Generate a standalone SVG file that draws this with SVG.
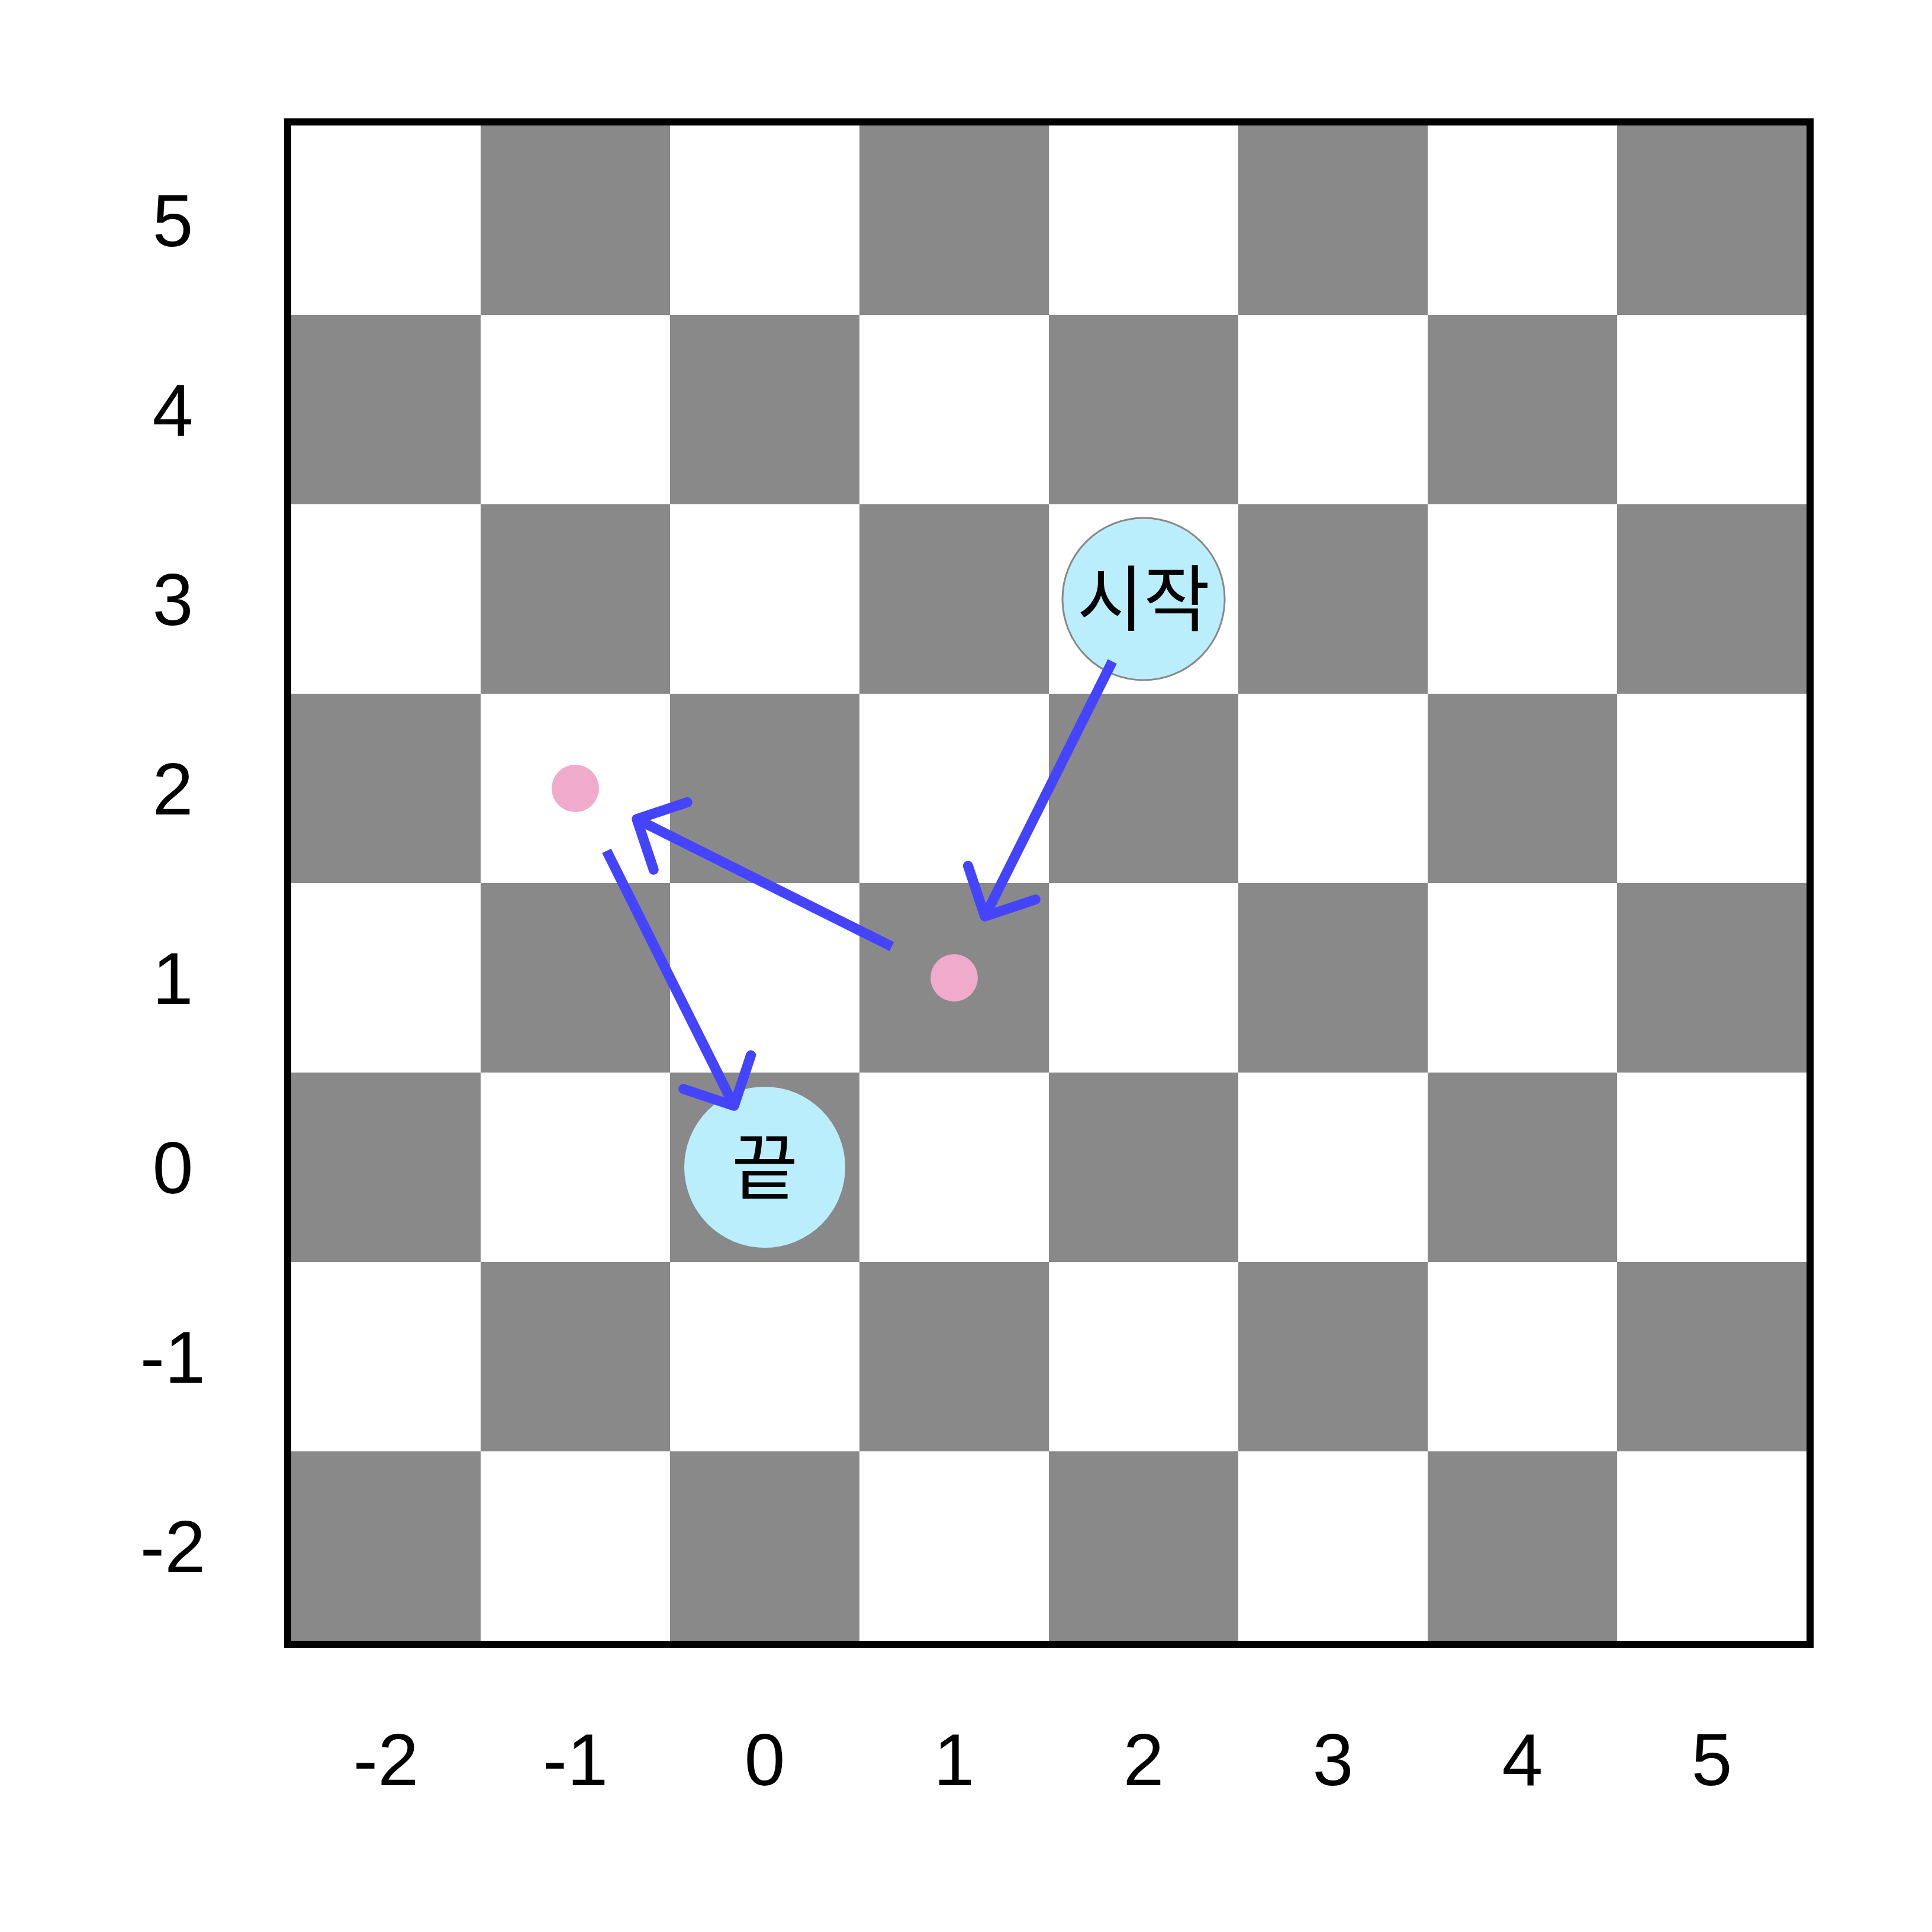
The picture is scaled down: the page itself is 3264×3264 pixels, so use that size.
<svg xmlns="http://www.w3.org/2000/svg" width="3264" height="3264" viewBox="0 0 3264 3264">
<style>
.dk{fill:#898989}
.lbl{font-family:"Liberation Sans",Arial,sans-serif;font-size:124px;fill:#000;text-anchor:middle}
.kr{font-family:"Noto Sans CJK KR","Noto Sans CJK SC",sans-serif;font-size:122px;fill:#000;text-anchor:middle}
.node{fill:#BBEEFD}
.dot{fill:#EFAACC}
.shaft{stroke:#4444FF;stroke-width:17;fill:none;stroke-linecap:butt}
.head{stroke:#4444FF;stroke-width:17;fill:none;stroke-linecap:round;stroke-linejoin:round}
</style>
<rect x="0" y="0" width="3264" height="3264" fill="#fff"/>
<g id="board">
<rect x="492" y="212" width="2560" height="2560" fill="#fff"/>
<!-- row 5 -->
<rect class="dk" x="812" y="212" width="320" height="320"/>
<rect class="dk" x="1452" y="212" width="320" height="320"/>
<rect class="dk" x="2092" y="212" width="320" height="320"/>
<rect class="dk" x="2732" y="212" width="320" height="320"/>
<!-- row 4 -->
<rect class="dk" x="492" y="532" width="320" height="320"/>
<rect class="dk" x="1132" y="532" width="320" height="320"/>
<rect class="dk" x="1772" y="532" width="320" height="320"/>
<rect class="dk" x="2412" y="532" width="320" height="320"/>
<!-- row 3 -->
<rect class="dk" x="812" y="852" width="320" height="320"/>
<rect class="dk" x="1452" y="852" width="320" height="320"/>
<rect class="dk" x="2092" y="852" width="320" height="320"/>
<rect class="dk" x="2732" y="852" width="320" height="320"/>
<!-- row 2 -->
<rect class="dk" x="492" y="1172" width="320" height="320"/>
<rect class="dk" x="1132" y="1172" width="320" height="320"/>
<rect class="dk" x="1772" y="1172" width="320" height="320"/>
<rect class="dk" x="2412" y="1172" width="320" height="320"/>
<!-- row 1 -->
<rect class="dk" x="812" y="1492" width="320" height="320"/>
<rect class="dk" x="1452" y="1492" width="320" height="320"/>
<rect class="dk" x="2092" y="1492" width="320" height="320"/>
<rect class="dk" x="2732" y="1492" width="320" height="320"/>
<!-- row 0 -->
<rect class="dk" x="492" y="1812" width="320" height="320"/>
<rect class="dk" x="1132" y="1812" width="320" height="320"/>
<rect class="dk" x="1772" y="1812" width="320" height="320"/>
<rect class="dk" x="2412" y="1812" width="320" height="320"/>
<!-- row -1 -->
<rect class="dk" x="812" y="2132" width="320" height="320"/>
<rect class="dk" x="1452" y="2132" width="320" height="320"/>
<rect class="dk" x="2092" y="2132" width="320" height="320"/>
<rect class="dk" x="2732" y="2132" width="320" height="320"/>
<!-- row -2 -->
<rect class="dk" x="492" y="2452" width="320" height="320"/>
<rect class="dk" x="1132" y="2452" width="320" height="320"/>
<rect class="dk" x="1772" y="2452" width="320" height="320"/>
<rect class="dk" x="2412" y="2452" width="320" height="320"/>
<rect x="486" y="206" width="2572" height="2572" fill="none" stroke="#000" stroke-width="12"/>
</g>
<g id="y-axis">
<text class="lbl" x="292" y="416">5</text>
<text class="lbl" x="292" y="736">4</text>
<text class="lbl" x="292" y="1056">3</text>
<text class="lbl" x="292" y="1376">2</text>
<text class="lbl" x="292" y="1696">1</text>
<text class="lbl" x="292" y="2016">0</text>
<text class="lbl" x="292" y="2336">-1</text>
<text class="lbl" x="292" y="2656">-2</text>
</g>
<g id="x-axis">
<text class="lbl" x="652" y="3016">-2</text>
<text class="lbl" x="972" y="3016">-1</text>
<text class="lbl" x="1292" y="3016">0</text>
<text class="lbl" x="1612" y="3016">1</text>
<text class="lbl" x="1932" y="3016">2</text>
<text class="lbl" x="2252" y="3016">3</text>
<text class="lbl" x="2572" y="3016">4</text>
<text class="lbl" x="2892" y="3016">5</text>
</g>
<g id="start">
<circle class="node" cx="1932" cy="1012" r="137" stroke="#888888" stroke-width="3"/>
<text class="kr" x="1932" y="1056">시작</text>
</g>
<g id="end">
<circle class="node" cx="1292" cy="1972" r="136"/>
<text class="kr" x="1292" y="2016">끝</text>
</g>
<g id="waypoint1">
<circle class="dot" cx="1612" cy="1652" r="40"/>
</g>
<g id="waypoint2">
<circle class="dot" cx="972" cy="1332" r="40"/>
</g>
<g id="connectors">
<line class="shaft" x1="1879.2" y1="1117.5" x2="1663.9" y2="1548.2"/>
<polyline class="head" points="1635.4,1462.8 1663.9,1548.2 1749.3,1519.7"/>
<line class="shaft" x1="1506.5" y1="1599.2" x2="1075.8" y2="1383.9"/>
<polyline class="head" points="1161.2,1355.4 1075.8,1383.9 1104.3,1469.3"/>
<line class="shaft" x1="1024.8" y1="1437.5" x2="1240.1" y2="1868.2"/>
<polyline class="head" points="1268.6,1782.8 1240.1,1868.2 1154.7,1839.7"/>
</g>
</svg>
